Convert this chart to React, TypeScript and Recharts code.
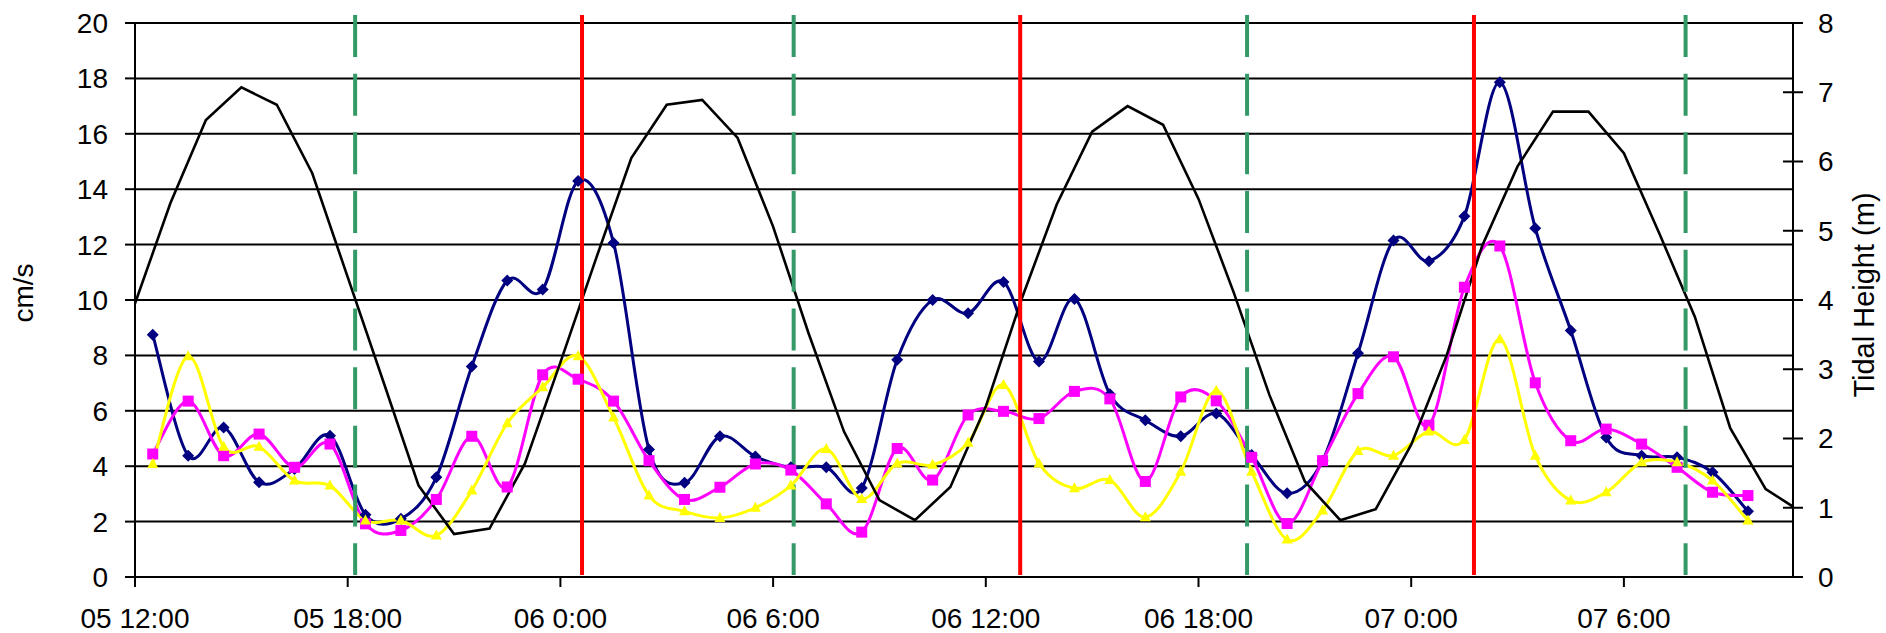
import { ComposedChart, Line, XAxis, YAxis, CartesianGrid, ReferenceLine, Label } from 'recharts'

const FONT = '"Liberation Sans", Arial, sans-serif'

// x axis is in hours since 05 12:00
const xTicks = [0, 6, 12, 18, 24, 30, 36, 42]
const xTickLabels = ['05 12:00', '05 18:00', '06 0:00', '06 6:00', '06 12:00', '06 18:00', '07 0:00', '07 6:00']
const X_MAX = 46.77

const speedTicks = [0, 2, 4, 6, 8, 10, 12, 14, 16, 18, 20]
const tideTicks = [0, 1, 2, 3, 4, 5, 6, 7, 8]

// tidal height (m), hourly from 05 12:00
const tide = [
  3.95, 5.4, 6.6, 7.07, 6.82, 5.83, 4.33, 2.83, 1.32, 0.62,
  0.7, 1.64, 3.1, 4.59, 6.05, 6.82, 6.89, 6.34, 5.06, 3.52,
  2.1, 1.11, 0.82, 1.3, 2.46, 4.0, 5.38, 6.43, 6.8, 6.53,
  5.46, 4.1, 2.63, 1.38, 0.82, 0.98, 1.91, 3.2, 4.78, 5.93,
  6.72, 6.72, 6.12, 4.96, 3.76, 2.15, 1.27, 0.94,
]

// current speed (cm/s), hourly, first reading at 05 12:30
const FIRST_READING = 0.5
const speedBlue = [
  8.75, 4.38, 5.4, 3.42, 3.9, 5.1, 2.25, 2.1, 3.6, 7.6,
  10.7, 10.38, 14.3, 12.06, 4.6, 3.4, 5.08, 4.35, 3.96, 3.96,
  3.21, 7.84, 10.0, 9.52, 10.65, 7.78, 10.04, 6.6, 5.66, 5.08,
  5.9, 4.4, 3.02, 4.2, 8.08, 12.15, 11.4, 13.02, 17.86, 12.59,
  8.9, 5.04, 4.38, 4.32, 3.78, 2.37,
]
const speedPink = [
  4.44, 6.35, 4.38, 5.16, 3.96, 4.8, 1.92, 1.68, 2.8, 5.08,
  3.25, 7.3, 7.14, 6.35, 4.2, 2.8, 3.24, 4.08, 3.86, 2.64,
  1.62, 4.64, 3.5, 5.85, 5.98, 5.72, 6.7, 6.43, 3.45, 6.5,
  6.36, 4.32, 1.93, 4.2, 6.62, 7.95, 5.48, 10.46, 11.95, 7.01,
  4.92, 5.34, 4.8, 3.96, 3.06, 2.94,
]
const speedYellow = [
  4.08, 7.97, 4.7, 4.7, 3.48, 3.3, 2.04, 2.04, 1.5, 3.12,
  5.55, 6.85, 7.97, 5.76, 2.94, 2.37, 2.13, 2.5, 3.3, 4.62,
  2.82, 4.1, 4.05, 4.85, 6.93, 4.1, 3.2, 3.5, 2.16, 3.8,
  6.72, 3.8, 1.35, 2.4, 4.55, 4.38, 5.25, 4.95, 8.58, 4.38,
  2.76, 3.06, 4.14, 4.14, 3.48, 2.04,
]

// vertical markers (hours)
const redLines = [12.61, 24.97, 37.77]
const greenLines = [6.21, 18.58, 31.37, 43.74]

type Row = { h: number; tide?: number; blue?: number; pink?: number; yellow?: number }

function buildRows(): Row[] {
  const map = new Map<number, Row>()
  const get = (h: number) => {
    if (!map.has(h)) map.set(h, { h })
    return map.get(h)!
  }
  tide.forEach((v, i) => (get(i).tide = v))
  speedBlue.forEach((v, i) => (get(i + FIRST_READING).blue = v))
  speedPink.forEach((v, i) => (get(i + FIRST_READING).pink = v))
  speedYellow.forEach((v, i) => (get(i + FIRST_READING).yellow = v))
  return [...map.values()].sort((a, b) => a.h - b.h)
}

const rows = buildRows()

// Excel-style smoothed line (uniform Catmull-Rom as cubic beziers)
function excelSmooth(context: any) {
  let pts: number[][] = []
  return {
    areaStart() {},
    areaEnd() {},
    lineStart() {
      pts = []
    },
    lineEnd() {
      const n = pts.length
      if (!n) return
      context.moveTo(pts[0][0], pts[0][1])
      for (let i = 0; i < n - 1; i++) {
        const p0 = pts[Math.max(i - 1, 0)]
        const p1 = pts[i]
        const p2 = pts[i + 1]
        const p3 = pts[Math.min(i + 2, n - 1)]
        context.bezierCurveTo(
          p1[0] + (p2[0] - p0[0]) / 6,
          p1[1] + (p2[1] - p0[1]) / 6,
          p2[0] - (p3[0] - p1[0]) / 6,
          p2[1] - (p3[1] - p1[1]) / 6,
          p2[0],
          p2[1],
        )
      }
    },
    point(x: number, y: number) {
      pts.push([x, y])
    },
  }
}

const ok = (p: any) => Number.isFinite(p.cx) && Number.isFinite(p.cy) && p.value != null

function DiamondDot(p: any) {
  if (!ok(p)) return <g key={p.index} />
  const { cx, cy } = p
  const s = 6
  return <polygon key={p.index} points={`${cx},${cy - s} ${cx + s},${cy} ${cx},${cy + s} ${cx - s},${cy}`} fill="#000080" />
}

function SquareDot(p: any) {
  if (!ok(p)) return <g key={p.index} />
  return <rect key={p.index} x={p.cx - 5.5} y={p.cy - 5.5} width={11} height={11} fill="#FF00FF" />
}

function TriangleDot(p: any) {
  if (!ok(p)) return <g key={p.index} />
  const { cx, cy } = p
  return <polygon key={p.index} points={`${cx},${cy - 6} ${cx + 5.5},${cy + 4} ${cx - 5.5},${cy + 4}`} fill="#FFFF00" />
}

const TIDE_TICK_SIZE = 10
const TIDE_TICK_MARGIN = 15

function TideTick(props: any) {
  const { x, y, payload } = props
  const axisX = x - TIDE_TICK_SIZE - TIDE_TICK_MARGIN
  return (
    <g>
      <line x1={axisX - 10} x2={axisX + 10} y1={y} y2={y} stroke="#000" strokeWidth={2} />
      <text x={x} y={y} dy="0.355em" textAnchor="start" fontSize={28} fontFamily={FONT} fill="#000">
        {payload.value}
      </text>
    </g>
  )
}

export default function App() {
  return (
    <div style={{ position: 'absolute', left: 0, top: 0, width: 1886, height: 633, background: '#fff' }}>
      <ComposedChart width={1886} height={633} data={rows} margin={{ top: 23, right: 0, bottom: 0, left: 0 }}>
        <CartesianGrid vertical={false} stroke="#000" strokeWidth={2} />
        <XAxis
          dataKey="h"
          type="number"
          domain={[0, X_MAX]}
          allowDataOverflow
          ticks={xTicks}
          interval={0}
          tickFormatter={(v: number) => xTickLabels[xTicks.indexOf(v)] ?? ''}
          height={56}
          tickSize={10}
          tickMargin={21}
          axisLine={{ stroke: '#000', strokeWidth: 2 }}
          tickLine={{ stroke: '#000', strokeWidth: 2 }}
          tick={{ fontSize: 28, fill: '#000', fontFamily: FONT }}
        />
        <YAxis
          domain={[0, 20]}
          ticks={speedTicks}
          interval={0}
          width={135}
          tickSize={10}
          tickMargin={17}
          axisLine={{ stroke: '#000', strokeWidth: 2 }}
          tickLine={{ stroke: '#000', strokeWidth: 2 }}
          tick={{ fontSize: 28, fill: '#000', fontFamily: FONT }}
          label={
            <Label
              content={() => (
                <text x={33} y={293} transform="rotate(-90 33 293)" textAnchor="middle" fontSize={28} fontFamily={FONT} fill="#000">
                  cm/s
                </text>
              )}
            />
          }
        />
        <YAxis
          yAxisId="tide"
          orientation="right"
          domain={[0, 8]}
          ticks={tideTicks}
          interval={0}
          width={93}
          tickSize={TIDE_TICK_SIZE}
          tickMargin={TIDE_TICK_MARGIN}
          axisLine={{ stroke: '#000', strokeWidth: 2 }}
          tickLine={false}
          tick={<TideTick />}
          label={
            <Label
              content={() => (
                <text x={1874} y={295} transform="rotate(-90 1874 295)" textAnchor="middle" fontSize={29} fontFamily={FONT} fill="#000">
                  Tidal Height (m)
                </text>
              )}
            />
          }
        />
        <Line
          dataKey="blue"
          type={excelSmooth as any}
          connectNulls
          stroke="#000080"
          strokeWidth={3}
          dot={DiamondDot}
          activeDot={false}
          isAnimationActive={false}
        />
        <Line
          dataKey="pink"
          type={excelSmooth as any}
          connectNulls
          stroke="#FF00FF"
          strokeWidth={3}
          dot={SquareDot}
          activeDot={false}
          isAnimationActive={false}
        />
        <Line
          dataKey="yellow"
          type={excelSmooth as any}
          connectNulls
          stroke="#FFFF00"
          strokeWidth={3}
          dot={TriangleDot}
          activeDot={false}
          isAnimationActive={false}
        />
        <Line
          yAxisId="tide"
          dataKey="tide"
          type="linear"
          connectNulls
          stroke="#000"
          strokeWidth={2.6}
          dot={false}
          activeDot={false}
          isAnimationActive={false}
        />
        {greenLines.map((h) => (
          <ReferenceLine
            key={`g${h}`}
            segment={[{ x: h, y: 20.29 }, { x: h, y: 0.07 }]}
            stroke="#339966"
            strokeWidth={4}
            strokeDasharray="42 16.7"
            ifOverflow="visible"
          />
        ))}
        {redLines.map((h) => (
          <ReferenceLine
            key={`r${h}`}
            segment={[{ x: h, y: 20.29 }, { x: h, y: 0.07 }]}
            stroke="#FF0000"
            strokeWidth={4}
            ifOverflow="visible"
          />
        ))}
      </ComposedChart>
    </div>
  )
}
